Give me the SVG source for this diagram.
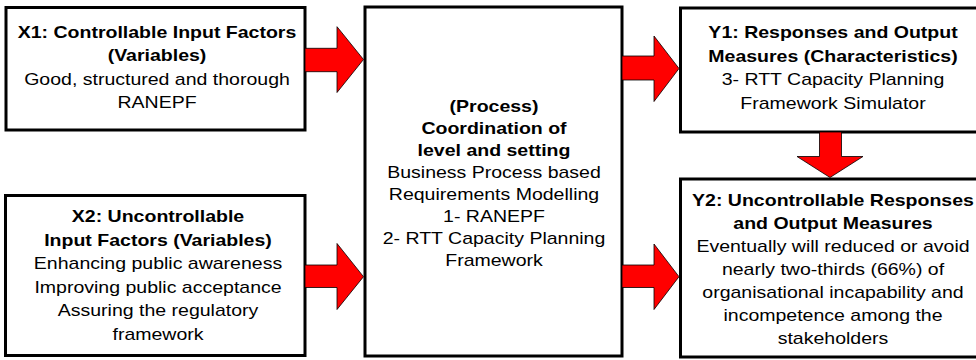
<svg xmlns="http://www.w3.org/2000/svg" width="976" height="360" viewBox="0 0 976 360">
<style>
.box{fill:#fff;stroke:#000;stroke-width:3}
.t{font-family:"Liberation Sans",Arial,sans-serif;font-size:16.4px;fill:#000;text-anchor:middle}
.b{font-weight:bold}
.arr{fill:#ff0000;stroke:#000;stroke-width:0.8;stroke-linejoin:miter}
</style>
<rect width="976" height="360" fill="#fff"/>
<g id="x1">
<rect class="box" x="6" y="7.5" width="299" height="122.5"/>
<text class="t" transform="translate(157,0) scale(1.19,1)"><tspan class="b" x="0" y="38">X1: Controllable Input Factors</tspan><tspan class="b" x="0" y="61.5">(Variables)</tspan><tspan x="0" y="85">Good, structured and thorough</tspan><tspan x="0" y="108.5">RANEPF</tspan></text>
</g>
<g id="x2">
<rect class="box" x="5.5" y="195.5" width="299.5" height="160"/>
<text class="t" transform="translate(158,0) scale(1.19,1)"><tspan class="b" x="0" y="222.5">X2: Uncontrollable</tspan><tspan class="b" x="0" y="246">Input Factors (Variables)</tspan><tspan x="0" y="269.5">Enhancing public awareness</tspan><tspan x="0" y="293">Improving public acceptance</tspan><tspan x="0" y="316.5">Assuring the regulatory</tspan><tspan x="0" y="340">framework</tspan></text>
</g>
<g id="process">
<rect class="box" x="365" y="7" width="257" height="349"/>
<text class="t" transform="translate(494,0) scale(1.19,1)"><tspan class="b" x="0" y="112">(Process)</tspan><tspan class="b" x="0" y="134">Coordination of</tspan><tspan class="b" x="0" y="156">level and setting</tspan><tspan x="0" y="178">Business Process based</tspan><tspan x="0" y="200">Requirements Modelling</tspan><tspan x="0" y="222">1- RANEPF</tspan><tspan x="0" y="244">2- RTT Capacity Planning</tspan><tspan x="0" y="266">Framework</tspan></text>
</g>
<g id="y1">
<rect class="box" x="680.5" y="8" width="310" height="124"/>
<text class="t" transform="translate(833,0) scale(1.19,1)"><tspan class="b" x="0" y="38.5">Y1: Responses and Output</tspan><tspan class="b" x="0" y="62">Measures (Characteristics)</tspan><tspan x="0" y="85.5">3- RTT Capacity Planning</tspan><tspan x="0" y="109">Framework Simulator</tspan></text>
</g>
<g id="y2">
<rect class="box" x="680.5" y="179" width="310" height="178"/>
<text class="t" transform="translate(833,0) scale(1.19,1)"><tspan class="b" x="0" y="206.5">Y2: Uncontrollable Responses</tspan><tspan class="b" x="0" y="229.5">and Output Measures</tspan><tspan x="0" y="252.5">Eventually will reduced or avoid</tspan><tspan x="0" y="275.5">nearly two-thirds (66%) of</tspan><tspan x="0" y="298.5">organisational incapability and</tspan><tspan x="0" y="321.5">incompetence among the</tspan><tspan x="0" y="344.5">stakeholders</tspan></text>
</g>
<g id="connectors">
<path class="arr" d="M305,48.3 L337,48.3 L337,26.7 L363.5,59.5 L337,92.5 L337,71.7 L305,71.7 Z"/>
<path class="arr" d="M305,265 L337,265 L337,243.5 L363.5,276.7 L337,309.5 L337,287.5 L305,287.5 Z"/>
<path class="arr" d="M622,56 L654,56 L654,36 L679,68.5 L654,101.5 L654,80 L622,80 Z"/>
<path class="arr" d="M622,265 L654,265 L654,244 L679,276.7 L654,309.5 L654,287.5 L622,287.5 Z"/>
<path class="arr" d="M819.5,132 L819.5,156.5 L797,156.5 L830,177.5 L863,156.5 L841.5,156.5 L841.5,132 Z"/>
</g>
</svg>
